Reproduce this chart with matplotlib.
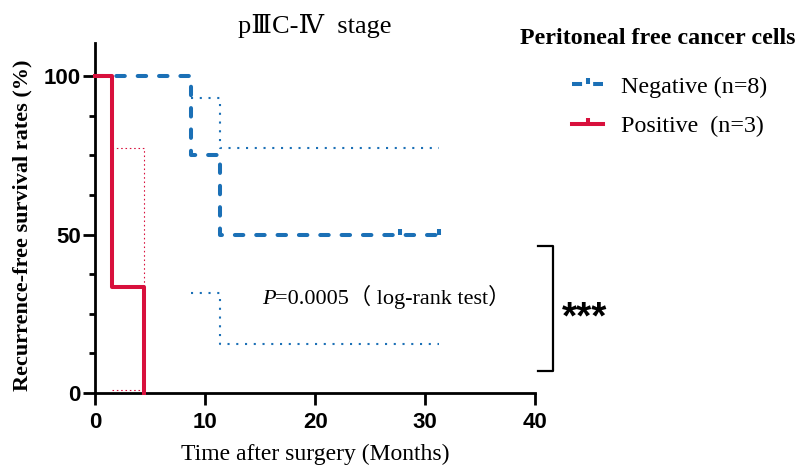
import numpy as np
import matplotlib
matplotlib.use("Agg")
import matplotlib.pyplot as plt
from matplotlib.path import Path
from matplotlib.lines import Line2D

plt.rcParams['font.family'] = ['Liberation Serif', 'DejaVu Serif', 'Noto Sans CJK SC']

# Kaplan-Meier data (months, %)
neg_t = [0, 8.7, 11.3, 31.3]
neg_s = [100, 75, 50, 50]
neg_hi_t = [8.7, 11.3, 31.3]
neg_hi = [93, 77.4, 77.4]
neg_lo_t = [8.7, 11.3, 31.3]
neg_lo = [31.4, 15.5, 15.5]
neg_cens_t = [27.7, 31.3]
neg_cens_s = [50, 50]

pos_t = [0, 1.55, 4.43]
pos_s = [100, 33.3, 0]
pos_hi_t = [1.55, 4.43]
pos_hi = [77.2, 33.3]
pos_lo_t = [1.55, 4.43]
pos_lo = [0.8, 0.8]

labels = ['Negative (n=8)', 'Positive  (n=3)']
blue = '#1b70b6'
red = '#d8103c'

tick_up = Path([(0, 0), (0, 1)], [Path.MOVETO, Path.LINETO])

fig = plt.figure(figsize=(8.01, 4.69), dpi=100)
ax = fig.add_axes([0.119, 0.162, 0.549, 0.7456])

lw = 2.9
# confidence bands (dotted)
ax.step(neg_hi_t, neg_hi, where='post', color=blue, lw=1.5, ls=(0, (1, 3.2)), clip_on=False)
ax.step(neg_lo_t, neg_lo, where='post', color=blue, lw=1.5, ls=(0, (1, 3.2)), clip_on=False)
ax.step(pos_hi_t, pos_hi, where='post', color=red, lw=0.8, ls=(0, (1.4, 2.5)), clip_on=False)
ax.step(pos_lo_t, pos_lo, where='post', color=red, lw=0.8, ls=(0, (1.4, 2.5)), clip_on=False, zorder=5)

# survival curves
ax.step(neg_t, neg_s, where='post', color=blue, lw=lw, ls=(0, (2.1, 3.2)),
        dash_capstyle='round', solid_joinstyle='miter', clip_on=False, zorder=4)
ax.plot(neg_cens_t, neg_cens_s, ls='none', marker=tick_up, ms=9, mew=lw,
        mec=blue, clip_on=False, zorder=4)
ax.step(pos_t, pos_s, where='post', color=red, lw=lw, clip_on=False, zorder=4)

ax.set_xlim(0, 40)
ax.set_ylim(0, 110.3)
ax.set_xticks([0, 10, 20, 30, 40])
ax.set_yticks([0, 50, 100])
ax.set_yticks(np.arange(0, 101, 12.5), minor=True)
for s in ['top', 'right']:
    ax.spines[s].set_visible(False)
for s in ['left', 'bottom']:
    ax.spines[s].set_linewidth(2)
ax.tick_params(axis='both', which='major', length=8.6, width=2)
ax.tick_params(axis='x', which='major', pad=5)
ax.tick_params(axis='y', which='major', pad=2)
ax.tick_params(axis='y', which='minor', length=4.3, width=2)
for lab in ax.get_xticklabels() + ax.get_yticklabels():
    lab.set_family('Liberation Sans')
    lab.set_weight('bold')
    lab.set_fontsize(16)

ax.set_xlabel('Time after surgery (Months)', fontsize=17, labelpad=8)
ax.set_ylabel('Recurrence-free survival rates (%)', fontsize=16, fontweight='bold')
ax.yaxis.set_label_coords(-0.142, 0.48)

fig.text(315 / 801, 1 - 26 / 469, 'p\u2162C-\u2163  stage', fontsize=19,
         ha='center', va='center')

# log-rank annotation
ptxt = ax.text(15.15, 28.2, 'P', fontsize=16, style='italic', va='baseline', ha='left')
ax.annotate('=0.0005\uff08 log-rank test\uff09', xy=(1, 0), xycoords=ptxt,
            fontsize=16, va='bottom', ha='left',
            family=['Liberation Serif', 'Noto Sans CJK SC'])

# significance bracket
ax.plot([40.3, 41.6, 41.6, 40.3], [46.5, 46.5, 7.0, 7.0], color='black', lw=1.6,
        clip_on=False)
ax.text(42.4, 23.5, '***', fontsize=28, fontweight='bold', family='Liberation Sans',
        va='center', ha='left')

# legend
fig.text(520 / 801, 1 - 38 / 469, 'Peritoneal free cancer cells', fontsize=17.3,
         fontweight='bold', va='center', ha='left')
handles = [
    Line2D([0], [0], color=blue, lw=lw, ls=(0, (2.5, 2.75)), marker=tick_up, ms=9, mew=lw),
    Line2D([0], [0], color=red, lw=lw, marker=tick_up, ms=9, mew=lw),
]
fig.legend(handles, labels, loc='upper left', bbox_to_anchor=(572 / 801, 1 - 76 / 469),
           frameon=False, fontsize=17.3, handlelength=1.3, handletextpad=0.72,
           labelspacing=0.72, borderpad=0, borderaxespad=0, numpoints=1)

fig.savefig('out.png', dpi=100)
